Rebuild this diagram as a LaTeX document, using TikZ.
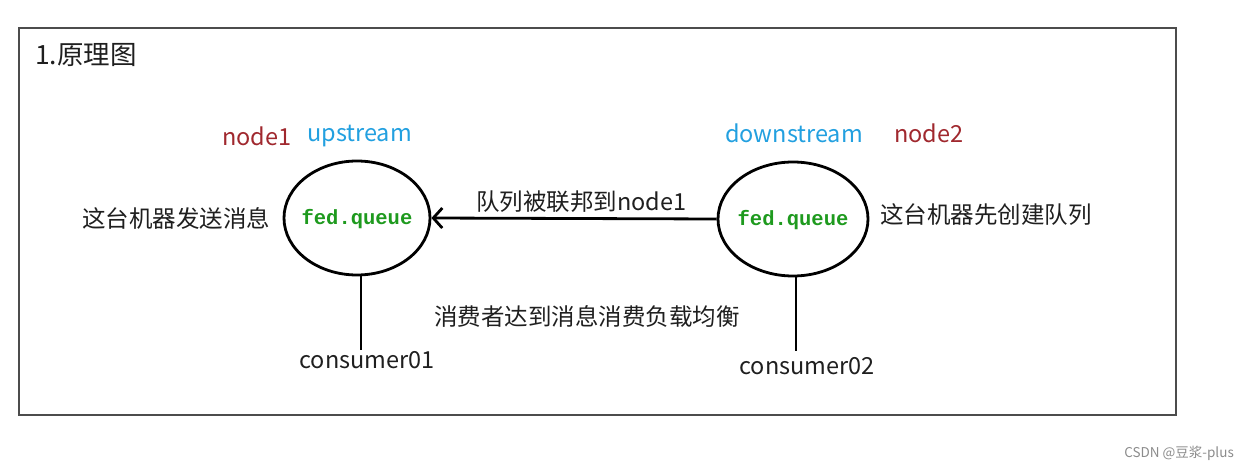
\documentclass[tikz,border=0pt]{standalone}
\usepackage{fontspec}
\setmainfont{Noto Sans CJK SC}
\newfontfamily\monofnt{Liberation Mono}
\usetikzlibrary{shapes.geometric,arrows.meta}
\definecolor{nodered}{HTML}{A0282E}
\definecolor{streamblue}{HTML}{22A0E0}
\definecolor{queuegreen}{HTML}{1E9A1E}
\tikzset{
  lbl/.style={inner sep=0pt, font=\fontsize{23.5}{26}\selectfont, text=black!88},
  queue/.style={ellipse, draw, line width=2.8pt, inner sep=0pt},
  qtext/.style={inner sep=0pt, font=\monofnt\bfseries\fontsize{20.5}{22}\selectfont, text=queuegreen},
  conn/.style={line width=2.8pt},
}
\begin{document}
\begin{tikzpicture}[x=1pt,y=-1pt]
\useasboundingbox (0,0) rectangle (1249,470);
\fill[white] (0,0) rectangle (1249,470);
\draw[line width=1.3pt, draw=black!70] (19,28) rectangle (1176,415);
\node[lbl, anchor=west, font=\fontsize{26.5}{30}\selectfont] (title) at (35,55) {1.原理图};
\node[lbl, anchor=west, text=nodered] (n1) at (222,136) {node1};
\node[lbl, anchor=west, text=streamblue] (up) at (307,136) {upstream};
\node[lbl, anchor=west, text=streamblue] (down) at (725,133) {downstream};
\node[lbl, anchor=west, text=nodered] (n2) at (894,133) {node2};
\node[queue, minimum width=146pt, minimum height=114pt] (q1) at (357,218) {};
\node[queue, minimum width=150pt, minimum height=114pt] (q2) at (793,219) {};
\node[qtext] (q1t) at (357,219) {fed.queue};
\node[qtext] (q2t) at (793,220) {fed.queue};
\node[lbl, anchor=west] (sendtxt) at (82,218) {这台机器发送消息};
\node[lbl, anchor=west] (createtxt) at (880,215) {这台机器先创建队列};
\draw[conn, -{Straight Barb[length=9pt,width=20pt,line width=2.8pt]}] (q2.west) -- (q1.east);
\node[lbl, anchor=west] (fedtxt) at (476,202) {队列被联邦到node1};
\node[lbl] (c1) at (367,360) {consumer01};
\node[lbl] (c2) at (807,366) {consumer02};
\coordinate (q1b) at (361,275);
\coordinate (q2b) at (796,277);
\coordinate (c1t) at (361,350);
\coordinate (c2t) at (796,351);
\draw[conn] (q1b) -- (c1t);
\draw[conn] (q2b) -- (c2t);
\node[lbl, anchor=west] (balance) at (434,316) {消费者达到消息消费负载均衡};
\node[inner sep=0pt, anchor=east, text=black!45, font=\fontsize{13.5}{16}\selectfont] (wm) at (1234,453) {CSDN @豆浆-plus};
\end{tikzpicture}
\end{document}
